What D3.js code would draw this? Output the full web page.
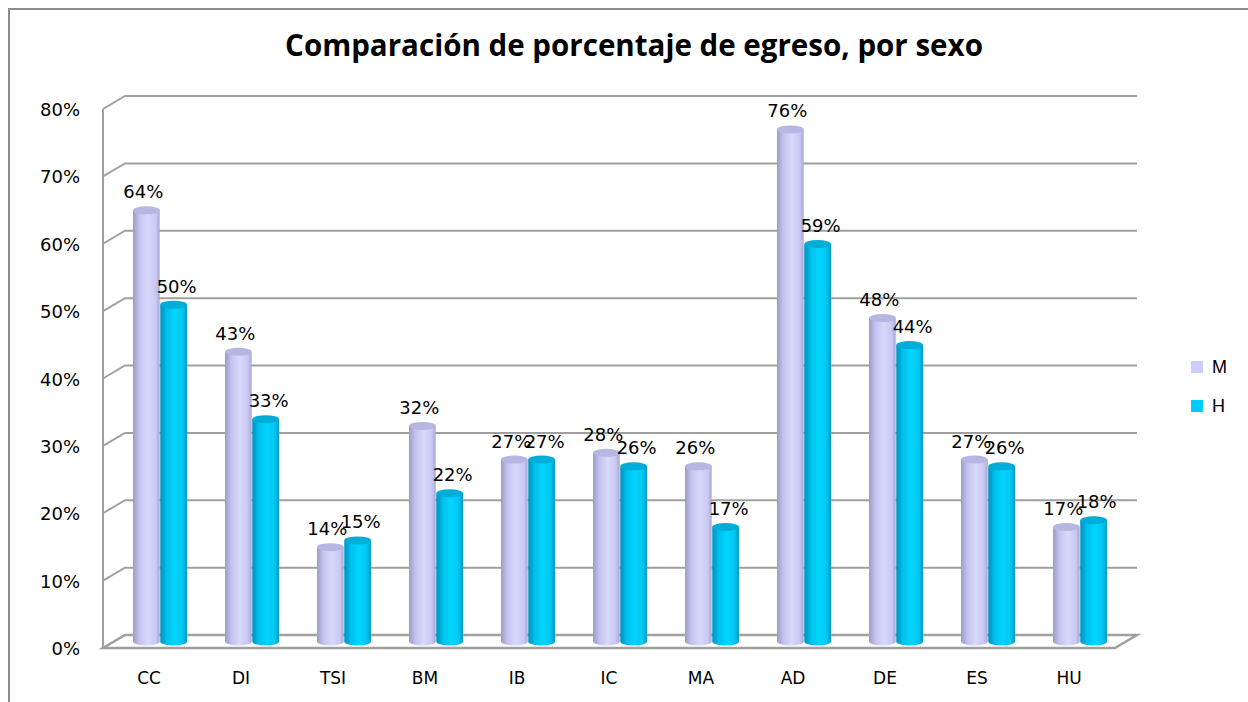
<!DOCTYPE html>
<html>
<head>
<meta charset="utf-8">
<script src="https://cdn.jsdelivr.net/npm/d3@7"></script>
<style>
  body { margin: 0; background: #fff; }
  svg { display: block; }
</style>
</head>
<body>
<div id="chart"></div>
<script>
const categories = ["CC", "DI", "TSI", "BM", "IB", "IC", "MA", "AD", "DE", "ES", "HU"];
const seriesNames = ["M", "H"];
const valuesM = [64, 43, 14, 32, 27, 28, 26, 76, 48, 27, 17];
const valuesH = [50, 33, 15, 22, 27, 26, 17, 59, 44, 26, 18];
const yTicks = [0, 10, 20, 30, 40, 50, 60, 70, 80];

const width = 1248, height = 702;
const depth = {dx: 22, dy: -13};          // back wall offset from the front plane
const mid = {dx: 11, dy: -6.5};           // bars stand in the middle of the floor

const x = d3.scaleBand().domain(categories).range([103, 1115]);
const y = d3.scaleLinear().domain([0, 80]).range([648, 109]);
const sx = d3.scaleBand().domain(seriesNames).range([-27, 27]).paddingInner(0.02);

const svg = d3.select("#chart").append("svg")
  .attr("width", width)
  .attr("height", height);

const defs = svg.append("defs");
function cylGrad(id, stops) {
  const g = defs.append("linearGradient").attr("id", id)
    .attr("x1", 0).attr("x2", 1).attr("y1", 0).attr("y2", 0);
  g.selectAll("stop").data(stops).enter().append("stop")
    .attr("offset", d => d[0]).attr("stop-color", d => d[1]);
}
cylGrad("gradM", [[0, "#9c9cc8"], [0.25, "#c4c4ee"], [0.55, "#d8d8fc"], [0.85, "#c8c8f2"], [1, "#a8a8d4"]]);
cylGrad("gradH", [[0, "#0090bc"], [0.25, "#00c0ec"], [0.55, "#00d6ff"], [0.85, "#00c4f0"], [1, "#0098c4"]]);
const colors = {M: {fill: "url(#gradM)", top: "#b6b6e2", legend: "#ccccff"},
                H: {fill: "url(#gradH)", top: "#00acd8", legend: "#00ccff"}};

// frame
svg.append("rect")
  .attr("x", 9).attr("y", 9).attr("width", width + 10).attr("height", height + 10)
  .attr("fill", "none")
  .attr("stroke", "#8c8c8c").attr("stroke-width", 2);

// title
const title = svg.append("text")
  .attr("x", 634).attr("y", 56)
  .attr("text-anchor", "middle")
  .style("font-family", "'Open Sans', sans-serif")
  .style("font-weight", "bold")
  .style("font-size", "29px")
  .text("Comparación de porcentaje de egreso, por sexo");
const tw = title.node().getComputedTextLength();
title.style("font-size", (29 * 698 / tw).toFixed(2) + "px");

const x0 = x.range()[0], x1 = x.range()[1];
const gridColor = "#a0a0a0";
const font = "'DejaVu Sans', Verdana, sans-serif";

// floor
svg.append("path")
  .attr("d", `M${x0},${y(0)}L${x1},${y(0)}L${x1 + depth.dx},${y(0) + depth.dy}L${x0 + depth.dx},${y(0) + depth.dy}Z`)
  .attr("fill", "#fff")
  .attr("stroke", gridColor).attr("stroke-width", 2.5);

// left wall edge
svg.append("line")
  .attr("x1", x0).attr("x2", x0).attr("y1", y(0)).attr("y2", y(80))
  .attr("stroke", gridColor).attr("stroke-width", 2);

// gridlines
svg.append("g").selectAll("path").data(yTicks.slice(1)).enter().append("path")
  .attr("d", d => `M${x0},${y(d)}L${x0 + depth.dx},${y(d) + depth.dy}L${x1 + depth.dx},${y(d) + depth.dy}`)
  .attr("fill", "none")
  .attr("stroke", gridColor).attr("stroke-width", 2);

// y tick labels
svg.append("g").selectAll("text").data(yTicks).enter().append("text")
  .attr("x", 80).attr("y", d => y(d) + 2)
  .attr("text-anchor", "end")
  .attr("dominant-baseline", "middle")
  .style("font-family", font)
  .style("font-size", "18px")
  .text(d => d + "%");

// category labels
svg.append("g").selectAll("text").data(categories).enter().append("text")
  .attr("x", d => x(d) + x.bandwidth() / 2)
  .attr("y", 684)
  .attr("text-anchor", "middle")
  .style("font-family", font)
  .style("font-size", "17px")
  .text(d => d);

// bars (cylinders)
const bars = [];
categories.forEach((c, i) => {
  bars.push({cat: c, s: "M", v: valuesM[i]});
  bars.push({cat: c, s: "H", v: valuesH[i]});
});

const ry = 4;
const bw = sx.bandwidth();
const barG = svg.append("g").selectAll("g").data(bars).enter().append("g")
  .attr("transform", d => `translate(${x(d.cat) + x.bandwidth() / 2 + mid.dx + sx(d.s)}, ${mid.dy})`);

barG.append("path")
  .attr("d", d => {
    const top = y(d.v), base = y(0), r = bw / 2;
    return `M0,${top}L0,${base}A${r},${ry} 0 0 0 ${bw},${base}L${bw},${top}Z`;
  })
  .attr("fill", d => colors[d.s].fill);

barG.append("ellipse")
  .attr("cx", bw / 2).attr("cy", d => y(d.v))
  .attr("rx", bw / 2).attr("ry", ry)
  .attr("fill", d => colors[d.s].top);

// value labels
barG.append("text")
  .attr("x", d => bw / 2 + (d.s === "M" ? -3 : 3))
  .attr("y", d => y(d.v) - 12)
  .attr("text-anchor", "middle")
  .style("font-family", font)
  .style("font-size", "18px")
  .text(d => d.v + "%");

// legend
const legend = svg.append("g").selectAll("g").data(seriesNames).enter().append("g")
  .attr("transform", (d, i) => `translate(1191, ${361 + i * 39})`);
legend.append("rect").attr("width", 12).attr("height", 12)
  .attr("fill", d => colors[d].legend);
legend.append("text")
  .attr("x", 21).attr("y", 7)
  .attr("dominant-baseline", "middle")
  .style("font-family", "'Liberation Sans', Arial, sans-serif")
  .style("font-size", "18px")
  .text(d => d);
</script>
</body>
</html>
